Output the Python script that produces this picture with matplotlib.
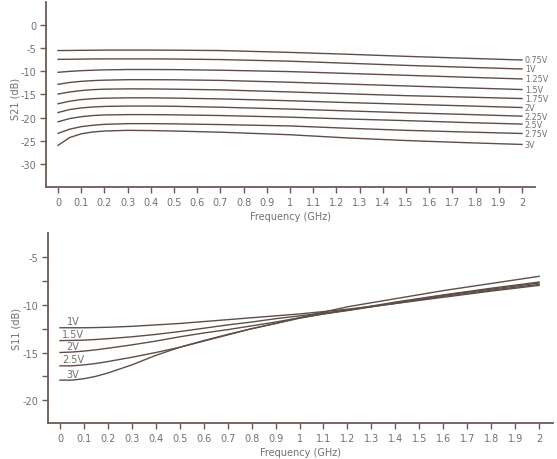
import matplotlib
matplotlib.use("Agg")
import matplotlib.pyplot as plt

plt.rcParams['font.family'] = ['DejaVu Sans']

# ---- S21 vs frequency for bias voltages ----
s21_freq = [0, 0.05, 0.1, 0.15, 0.2, 0.3, 0.4, 0.5, 0.7, 1.0, 1.25, 1.5, 1.75, 2.0]
s21_labels = ['0.75V', '1V', '1.25V', '1.5V', '1.75V', '2V', '2.25V', '2.5V', '2.75V', '3V']
s21_075 = [-5.5, -5.48, -5.45, -5.43, -5.4, -5.4, -5.4, -5.42, -5.5, -5.9, -6.3, -6.75, -7.15, -7.54]
s21_100 = [-7.4, -7.38, -7.35, -7.32, -7.3, -7.3, -7.3, -7.33, -7.45, -7.8, -8.25, -8.7, -9.1, -9.48]
s21_125 = [-10.2, -10.0, -9.85, -9.75, -9.68, -9.6, -9.6, -9.62, -9.75, -10.05, -10.45, -10.85, -11.25, -11.64]
s21_150 = [-12.8, -12.4, -12.15, -12.0, -11.9, -11.8, -11.8, -11.82, -11.95, -12.35, -12.75, -13.15, -13.55, -13.93]
s21_175 = [-14.9, -14.45, -14.15, -13.95, -13.85, -13.78, -13.8, -13.85, -14.0, -14.45, -14.85, -15.25, -15.55, -15.88]
s21_200 = [-17.0, -16.45, -16.1, -15.9, -15.8, -15.72, -15.72, -15.78, -15.95, -16.35, -16.75, -17.1, -17.45, -17.82]
s21_225 = [-18.9, -18.25, -17.9, -17.7, -17.58, -17.5, -17.5, -17.55, -17.75, -18.15, -18.55, -18.95, -19.3, -19.68]
s21_250 = [-20.9, -20.2, -19.8, -19.55, -19.42, -19.35, -19.35, -19.4, -19.55, -19.9, -20.3, -20.65, -21.05, -21.4]
s21_275 = [-23.4, -22.5, -21.95, -21.65, -21.45, -21.3, -21.3, -21.35, -21.5, -21.8, -22.3, -22.75, -23.1, -23.43]
s21_300 = [-26.0, -24.3, -23.5, -23.1, -22.9, -22.75, -22.8, -22.9, -23.15, -23.7, -24.4, -24.95, -25.4, -25.8]
s21_series = [s21_075, s21_100, s21_125, s21_150, s21_175,
              s21_200, s21_225, s21_250, s21_275, s21_300]

# ---- S11 vs frequency for bias voltages ----
s11_freq = [0, 0.05, 0.1, 0.15, 0.2, 0.3, 0.4, 0.5, 0.6, 0.7, 0.8, 0.9,
            1.0, 1.1, 1.2, 1.4, 1.6, 1.8, 2.0]
s11_labels = ['1V', '1.5V', '2V', '2.5V', '3V']
s11_100 = [-12.4, -12.4, -12.4, -12.38, -12.35, -12.25, -12.1, -11.95, -11.75, -11.55,
           -11.35, -11.15, -10.95, -10.7, -10.45, -9.85, -9.2, -8.55, -7.95]
s11_150 = [-13.75, -13.73, -13.7, -13.63, -13.55, -13.35, -13.1, -12.8, -12.45, -12.1,
           -11.8, -11.45, -11.15, -10.85, -10.55, -9.85, -9.1, -8.45, -7.85]
s11_200 = [-15.0, -14.95, -14.85, -14.72, -14.55, -14.2, -13.8, -13.35, -12.95, -12.6,
           -12.2, -11.8, -11.35, -10.95, -10.6, -9.8, -9.0, -8.35, -7.7]
s11_250 = [-16.4, -16.4, -16.3, -16.15, -15.95, -15.5, -15.0, -14.45, -13.8, -13.15,
           -12.5, -11.95, -11.4, -10.95, -10.55, -9.7, -8.95, -8.25, -7.6]
s11_300 = [-17.9, -17.9, -17.75, -17.5, -17.15, -16.3, -15.3, -14.45, -13.75, -13.1,
           -12.5, -11.95, -11.35, -10.75, -10.2, -9.35, -8.5, -7.75, -7.0]
s11_series = [s11_100, s11_150, s11_200, s11_250, s11_300]

freq_ticks = [i / 10 for i in range(21)]
freq_ticklabels = ['0', '0.1', '0.2', '0.3', '0.4', '0.5', '0.6', '0.7', '0.8', '0.9', '1',
                   '1.1', '1.2', '1.3', '1.4', '1.5', '1.6', '1.7', '1.8', '1.9', '2']

LINE = '#5e4e48'
AXC = '#6a5c56'
TXT = '#707070'

fig = plt.figure(figsize=(5.57, 4.60), dpi=100)
ax1 = fig.add_axes([0.0826, 0.5913, 0.8779, 0.4022])
ax2 = fig.add_axes([0.0862, 0.0783, 0.9066, 0.4130])


def style(ax):
    for s in ('top', 'right'):
        ax.spines[s].set_visible(False)
    for s in ('left', 'bottom'):
        ax.spines[s].set_color(AXC)
        ax.spines[s].set_linewidth(1.3)
    ax.tick_params(direction='out', length=4, width=1.0, color=AXC,
                   labelcolor=TXT, labelsize=7, pad=3)
    ax.set_xticks(freq_ticks)
    ax.set_xticklabels(freq_ticklabels)
    ax.set_xlabel('Frequency (GHz)', fontsize=7, color=TXT, labelpad=3)


# top: S21
style(ax1)
for lab, vals in zip(s21_labels, s21_series):
    ax1.plot(s21_freq, vals, color=LINE, lw=1.0)
    ax1.text(2.012, vals[-1], lab, fontsize=5.8, color=TXT, va='center', ha='left')
ax1.set_xlim(-0.052, 2.056)
ax1.set_ylim(-35, 5)
ax1.set_yticks([0, -5, -10, -15, -20, -25, -30])
ax1.set_yticklabels(['0', '-5', '-10', '-15', '-20', '-25', '-30'])
ax1.set_ylabel('S21 (dB)', fontsize=7, color=TXT)
ax1.yaxis.set_label_coords(-0.052, 0.48)

# bottom: S11
style(ax2)
for lab, vals in zip(s11_labels, s11_series):
    ax2.plot(s11_freq, vals, color=LINE, lw=1.0)
    ax2.text(0.055, vals[0] + 0.15, lab, fontsize=7, color=TXT, va='bottom', ha='center')
ax2.set_xlim(-0.05, 2.058)
ax2.set_ylim(-22.4, -2.45)
ax2.set_yticks([-5, -7.5, -10, -12.5, -15, -17.5, -20])
ax2.set_yticklabels(['-5', '', '-10', '', '-15', '', '-20'])
ax2.set_ylabel('S11 (dB)', fontsize=7, color=TXT)
ax2.yaxis.set_label_coords(-0.053, 0.5)

fig.savefig('out.png', dpi=100, facecolor='white')
